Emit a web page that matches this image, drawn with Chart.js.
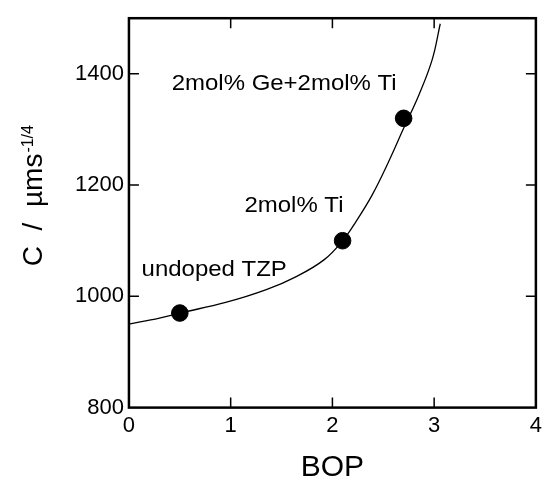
<!DOCTYPE html>
<html>
<head>
<meta charset="utf-8">
<script src="https://cdn.jsdelivr.net/npm/chart.js@4"></script>
<style>
  html, body { margin: 0; padding: 0; background: #fff; }
  #wrap { width: 547px; height: 480px; }
</style>
</head>
<body>
<div id="wrap"><canvas id="myChart"></canvas></div>
<script>
    let pointX = [0.5, 2.1, 2.7];
    let pointY = [970, 1100, 1320];
    let pointNames = ["undoped TZP", "2mol% Ti", "2mol% Ge+2mol% Ti"];

    let curveX = [0, 0.3, 0.5, 0.95, 1.35, 1.65, 1.92, 2.1, 2.23, 2.39, 2.55, 2.7, 2.85, 2.98, 3.06];
    let curveY = [950, 961, 970, 989, 1012, 1036, 1066, 1100, 1134, 1182, 1241, 1302, 1362, 1425, 1490];

    let xTicks = [0, 1, 2, 3, 4];
    let yTicks = [800, 1000, 1200, 1400];

    const font = "'Liberation Sans', Arial, sans-serif";

    // where each label sits, in data units (left edge, baseline)
    let labelPos = [[0.124, 1037], [1.135, 1152], [0.42, 1371]];

    const framePlugin = {
      id: "frame",
      afterDatasetsDraw(chart) {
        const { ctx, chartArea: a, scales: { x, y } } = chart;
        ctx.save();
        ctx.strokeStyle = "#000";
        ctx.lineWidth = 1.5;
        ctx.beginPath();
        xTicks.slice(1, -1).forEach(v => {
          const px = x.getPixelForValue(v);
          ctx.moveTo(px, a.bottom); ctx.lineTo(px, a.bottom - 10);
          ctx.moveTo(px, a.top); ctx.lineTo(px, a.top + 10);
        });
        yTicks.slice(1).forEach(v => {
          const py = y.getPixelForValue(v);
          ctx.moveTo(a.left, py); ctx.lineTo(a.left + 10, py);
          ctx.moveTo(a.right, py); ctx.lineTo(a.right - 10, py);
        });
        ctx.stroke();
        ctx.lineWidth = 2.5;
        ctx.strokeRect(a.left, a.top, a.right - a.left, a.bottom - a.top);

        // point labels (the original type is a little wider than Arial)
        ctx.fillStyle = "#000";
        ctx.font = "22px " + font;
        ctx.textAlign = "left";
        ctx.textBaseline = "alphabetic";
        pointNames.forEach((t, i) => {
          ctx.save();
          ctx.translate(x.getPixelForValue(labelPos[i][0]), y.getPixelForValue(labelPos[i][1]));
          ctx.scale(1.09, 1);
          ctx.fillText(t, 0, 0);
          ctx.restore();
        });

        // y title with superscript
        const cy = (a.top + a.bottom) / 2 - 3;
        ctx.translate(41.7, cy);
        ctx.rotate(-Math.PI / 2);
        ctx.font = "28px " + font;
        const main = "C  /  \u00b5ms";
        const w = ctx.measureText(main).width;
        ctx.textAlign = "center";
        ctx.fillText(main, 0, 0);
        ctx.font = "16px " + font;
        ctx.textAlign = "left";
        ctx.fillText("-1/4", w / 2 + 1, -9);
        ctx.restore();
      }
    };

    new Chart("myChart", {
      type: "scatter",
      data: {
        datasets: [{
          type: "line",
          data: curveX.map((v, i) => ({ x: v, y: curveY[i] })),
          borderColor: "#000",
          borderWidth: 1.3,
          pointRadius: 0,
          tension: 0.4,
          fill: false
        }, {
          data: pointX.map((v, i) => ({ x: v, y: pointY[i] })),
          backgroundColor: "#000",
          borderColor: "#000",
          pointRadius: 8.3
        }]
      },
      options: {
        responsive: true,
        maintainAspectRatio: false,
        animation: false,
        layout: { padding: { left: 70, top: 14, right: 9, bottom: 0 } },
        plugins: { legend: { display: false }, tooltip: { enabled: false } },
        scales: {
          x: {
            type: "linear",
            min: 0,
            max: 4,
            afterBuildTicks: s => { s.ticks = xTicks.map(v => ({ value: v })); },
            grid: { display: false, drawTicks: false },
            border: { display: false },
            ticks: { padding: 5, color: "#000", font: { family: font, size: 22 }, callback: v => String(v) },
            title: {
              display: true,
              text: "BOP",
              color: "#000",
              font: { family: font, size: 30, lineHeight: 1 },
              padding: { top: 9, bottom: -3 }
            }
          },
          y: {
            type: "linear",
            min: 800,
            max: 1500,
            afterBuildTicks: s => { s.ticks = yTicks.map(v => ({ value: v })); },
            grid: { display: false, drawTicks: false },
            border: { display: false },
            ticks: { padding: 5, color: "#000", font: { family: font, size: 22 }, callback: v => String(v) }
          }
        }
      },
      plugins: [framePlugin]
    });
</script>
</body>
</html>
